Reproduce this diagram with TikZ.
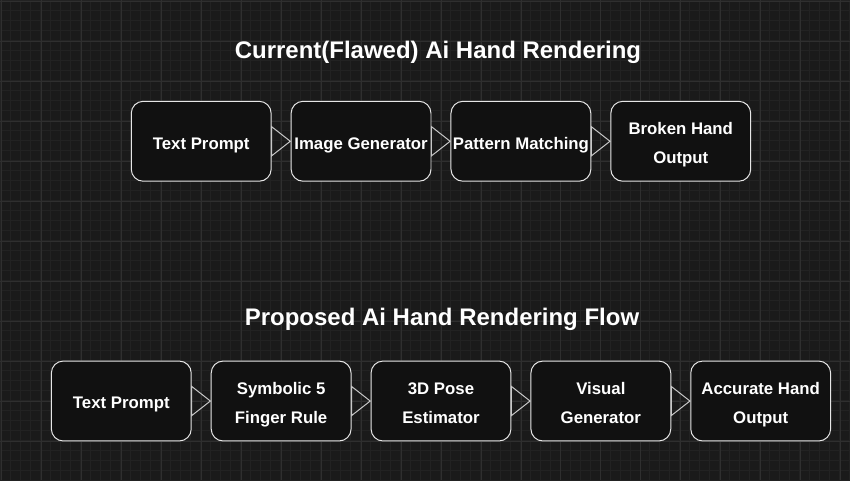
\documentclass[tikz,border=0pt]{standalone}
\usepackage{fontspec}
\setmainfont{Liberation Sans}
\usetikzlibrary{arrows.meta,positioning}

\definecolor{canvas}{HTML}{1A1A1A}
\definecolor{gridminor}{HTML}{222222}
\definecolor{gridmajor}{HTML}{2F2F2F}
\definecolor{boxfill}{HTML}{111111}
\definecolor{boxline}{HTML}{E6E6E6}
\definecolor{arrline}{HTML}{C8C8C8}

\begin{document}
\begin{tikzpicture}[
      x=1pt, y=-1pt,
      stage/.style={draw=boxline, line width=1pt, fill=boxfill, rounded corners=12pt,
        minimum width=140pt, minimum height=80pt, align=center, text=white, outer sep=0pt,
        inner xsep=1pt, font=\fontsize{16.8}{29}\selectfont\bfseries,
        text height=19pt, text depth=3.5pt},
      twoline/.style={text height=48pt, text depth=4pt},
      heading/.style={text=white, anchor=base, font=\fontsize{24}{28}\selectfont\bfseries},
      arr/.style={draw=arrline, line width=1pt, -{Triangle[open, length=20pt, width=31pt]}}
    ]
    % background grid
    \fill[canvas] (0,0) rectangle (850,480);
    \foreach \gx in {0,10,...,850} \draw[gridminor, line width=0.6pt] (\gx,0) -- (\gx,480);
    \foreach \gy in {0,10,...,480} \draw[gridminor, line width=0.6pt] (0,\gy) -- (850,\gy);
    \foreach \gx in {1,41,...,850} \draw[gridmajor, line width=0.8pt] (\gx,0) -- (\gx,480);
    \foreach \gy in {1,41,...,480} \draw[gridmajor, line width=0.8pt] (0,\gy) -- (850,\gy);
    \useasboundingbox (0,0) rectangle (850,480);

    % current flow
    \node[heading] (curtitle) at (438,58.5) {Current(Flawed) Ai Hand Rendering};
    \node[stage] (c1) at (201,141) {Text Prompt};
    \node[stage, right=20pt of c1] (c2) {Image Generator};
    \node[stage, right=20pt of c2] (c3) {Pattern Matching};
    \node[stage, twoline, right=20pt of c3] (c4) {Broken Hand\\Output};
    \draw[arr] (c1) -- (c2); \draw[arr] (c2) -- (c3); \draw[arr] (c3) -- (c4);

    % proposed flow
    \node[heading] (protitle) at (442,325) {Proposed Ai Hand Rendering Flow};
    \node[stage] (p1) at (121,401) {Text Prompt};
    \node[stage, twoline, right=20pt of p1] (p2) {Symbolic 5\\Finger Rule};
    \node[stage, twoline, right=20pt of p2] (p3) {3D Pose\\Estimator};
    \node[stage, twoline, right=20pt of p3] (p4) {Visual\\Generator};
    \node[stage, twoline, right=20pt of p4] (p5) {Accurate Hand\\Output};
    \draw[arr] (p1) -- (p2); \draw[arr] (p2) -- (p3);
    \draw[arr] (p3) -- (p4); \draw[arr] (p4) -- (p5);
  \end{tikzpicture}
\end{document}
